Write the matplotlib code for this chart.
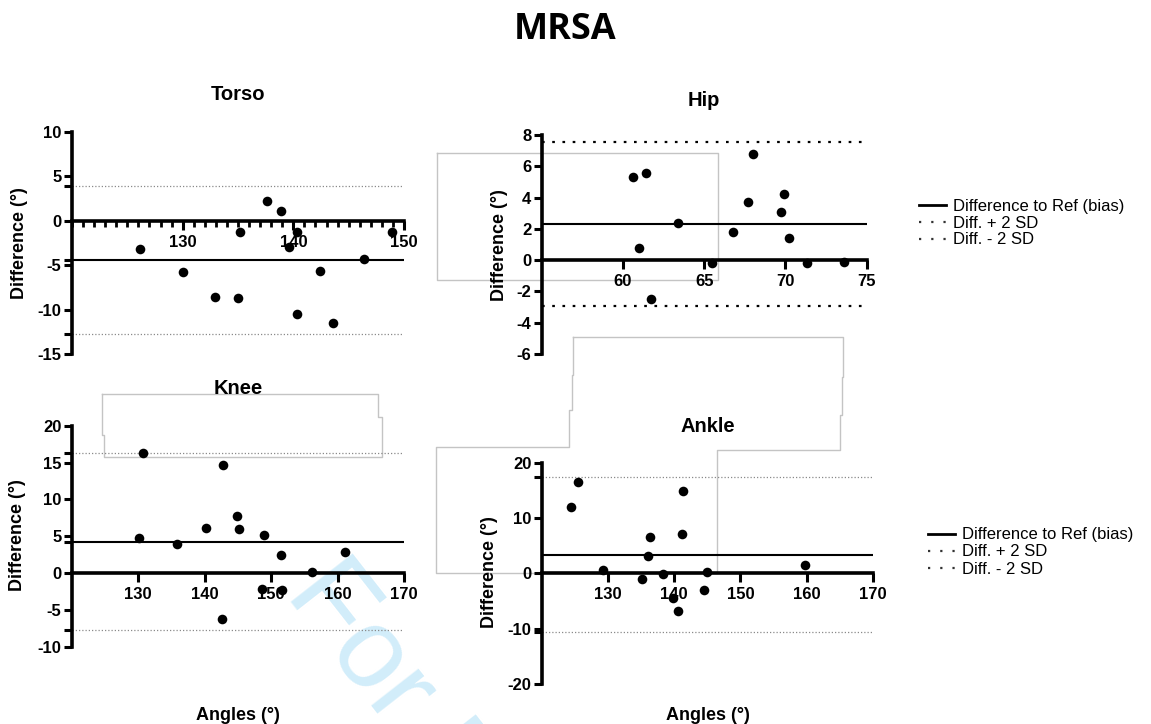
import matplotlib
matplotlib.use("Agg")
import matplotlib.pyplot as plt
from matplotlib.lines import Line2D
from matplotlib.ticker import MultipleLocator

plt.rcParams["font.family"] = ["Liberation Sans", "DejaVu Sans"]
plt.rcParams["axes.unicode_minus"] = False

W, H = 1151, 724

# ── data: mean angle vs difference to reference ───────────
torso_x = [126.1, 130.0, 132.9, 135.0, 135.2, 137.6, 138.9, 139.6, 140.3, 140.3, 142.4, 143.6, 146.4, 148.9]
torso_d = [-3.2, -5.8, -8.6, -8.7, -1.3, 2.2, 1.1, -3.0, -1.3, -10.5, -5.7, -11.5, -4.3, -1.3]
torso_bias, torso_up, torso_lo = -4.42, 3.9, -12.73

hip_x = [60.6, 61.0, 61.4, 61.7, 63.4, 65.5, 66.8, 67.7, 68.0, 69.7, 69.9, 70.2, 71.3, 73.6]
hip_d = [5.3, 0.8, 5.6, -2.5, 2.4, -0.2, 1.8, 3.7, 6.8, 3.1, 4.2, 1.4, -0.2, -0.15]
hip_bias, hip_up, hip_lo = 2.3, 7.53, -2.92

knee_x = [130.1, 130.7, 135.9, 140.2, 142.7, 142.6, 144.8, 145.1, 148.7, 148.9, 151.5, 151.7, 156.2, 161.1]
knee_d = [4.8, 16.3, 4.0, 6.1, 14.7, -6.2, 7.8, 6.0, -2.2, 5.2, 2.4, -2.3, 0.1, 2.9]
knee_bias, knee_up, knee_lo = 4.25, 16.3, -7.8

ankle_x = [124.4, 125.5, 129.3, 135.1, 136.0, 136.4, 138.3, 139.8, 140.6, 141.2, 141.4, 144.5, 145.0, 159.7]
ankle_d = [12.0, 16.6, 0.6, -1.1, 3.1, 6.6, -0.2, -4.4, -6.8, 7.2, 14.8, -3.0, 0.2, 1.45]
ankle_bias, ankle_up, ankle_lo = 3.37, 17.4, -10.66

legend_labels = ["Difference to Ref (bias)", "Diff. + 2 SD", "Diff. - 2 SD"]


def fx(px):
    return px / W


def fy(py):
    return 1 - py / H


def add_panel(fig, left, top, right, bottom):
    ax = fig.add_axes([fx(left), fy(bottom), (right - left) / W, (bottom - top) / H])
    ax.patch.set_visible(False)
    return ax


thin_dots = dict(color="#8a8a8a", lw=0.9, linestyle=(0, (1, 1.6)))
bold_dots = dict(color="black", lw=1.6, linestyle=(0, (1.2, 3.4)))


def bland_altman(ax, x, d, bias, up, lo, xlim, ylim, xticks, yticks, extra_y, loa_style):
    ax.set_xlim(xlim)
    ax.set_ylim(ylim)
    for s in ["top", "right"]:
        ax.spines[s].set_visible(False)
    ax.spines["bottom"].set_position(("data", 0))
    for s in ["left", "bottom"]:
        ax.spines[s].set_linewidth(2.6)
        ax.spines[s].set_capstyle("projecting")
    ax.axhline(bias, color="black", lw=1.5, zorder=2)
    ax.axhline(up, zorder=2, **loa_style)
    ax.axhline(lo, zorder=2, **loa_style)
    ax.scatter(x, d, s=48, color="black", zorder=5, clip_on=False, linewidths=0)
    ax.set_xticks(xticks, [str(t) for t in xticks])
    ax.set_yticks(list(yticks) + extra_y, [str(t) for t in yticks] + [""] * len(extra_y))
    ax.tick_params(axis="x", direction="out", length=6.5, width=2.2, pad=3.5, labelsize=12)
    ax.tick_params(axis="y", direction="out", length=6.0, width=2.2, pad=1.5, labelsize=12)
    for lab in ax.get_xticklabels() + ax.get_yticklabels():
        lab.set_fontweight("bold")


fig = plt.figure(figsize=(W / 100, H / 100), dpi=100)

# watermark behind the panels
fig.text(fx(284), fy(594), "For Peer Review", rotation=-52, rotation_mode="anchor",
         ha="left", va="baseline", fontsize=82, color="#d2edfa", zorder=-5)

ax1 = add_panel(fig, 72, 131.7, 404, 354)
bland_altman(ax1, torso_x, torso_d, torso_bias, torso_up, torso_lo, (120, 150), (-15, 10),
             [130, 140, 150], [10, 5, 0, -5, -10, -15], [torso_up, torso_bias, torso_lo], thin_dots)
ax1.xaxis.set_minor_locator(MultipleLocator(1))
ax1.tick_params(axis="x", which="minor", direction="out", length=4.0, width=2.0)

ax2 = add_panel(fig, 541.7, 135, 866.7, 354)
bland_altman(ax2, hip_x, hip_d, hip_bias, hip_up, hip_lo, (55, 75), (-6, 8),
             [60, 65, 70, 75], [8, 6, 4, 2, 0, -2, -4, -6], [], bold_dots)

ax3 = add_panel(fig, 71.7, 425.7, 404, 646.7)
bland_altman(ax3, knee_x, knee_d, knee_bias, knee_up, knee_lo, (120, 170), (-10, 20),
             [130, 140, 150, 160, 170], [20, 15, 10, 5, 0, -5, -10], [knee_up, knee_bias, knee_lo], thin_dots)

ax4 = add_panel(fig, 541.7, 462.7, 873, 684)
bland_altman(ax4, ankle_x, ankle_d, ankle_bias, ankle_up, ankle_lo, (120, 170), (-20, 20),
             [130, 140, 150, 160, 170], [20, 10, 0, -10, -20], [ankle_up, ankle_lo], thin_dots)

# titles and axis labels
fig.text(fx(565), fy(30), "MRSA", ha="center", va="center", fontsize=26, fontweight="bold",
         family=["Open Sans", "DejaVu Sans"])
for (px, py), t in zip([(238, 95), (704, 101), (238, 388), (708, 426)], ["Torso", "Hip", "Knee", "Ankle"]):
    fig.text(fx(px), fy(py), t, ha="center", va="center", fontsize=14.5, fontweight="bold")
for px, py in [(20, 243), (500, 245), (18, 535), (490, 572)]:
    fig.text(fx(px), fy(py), "Difference (°)", ha="center", va="center", rotation=90,
             fontsize=13, fontweight="bold")
for px in [238, 708]:
    fig.text(fx(px), fy(715), "Angles (°)", ha="center", va="center", fontsize=13, fontweight="bold")

# light grey frame outlines left over on the page
frames = [
    [(101.7, 394.3), (378.3, 394.3), (378.3, 416.7), (381.7, 416.7), (381.7, 456.7),
     (104.3, 456.7), (104.3, 435), (101.7, 435), (101.7, 394.3)],
    [(437.3, 153.3), (718.3, 153.3), (718.3, 280), (437.3, 280), (437.3, 153.3)],
    [(573.3, 337.3), (843.3, 337.3), (843.3, 376.7), (841.7, 376.7), (841.7, 415), (840, 415),
     (840, 450), (716.7, 450), (716.7, 573.3), (435.7, 573.3), (435.7, 447.3), (569.3, 447.3),
     (569.3, 410), (571.7, 410), (571.7, 375), (573.3, 375), (573.3, 337.3)],
]
for pts in frames:
    xs = [fx(p[0]) for p in pts]
    ys = [fy(p[1]) for p in pts]
    fig.add_artist(Line2D(xs, ys, transform=fig.transFigure, color="#c4c4c4", lw=1.0, zorder=-4))

# legends
handles = [Line2D([], [], color="black", lw=2.0),
           Line2D([], [], color="#333333", lw=1.6, linestyle=(0, (1, 4.5))),
           Line2D([], [], color="#333333", lw=1.6, linestyle=(0, (1, 4.5)))]
for lx, ly in [(919, 223), (928, 552)]:
    fig.legend(handles, legend_labels, loc="center left", bbox_to_anchor=(fx(lx), fy(ly)),
               frameon=False, fontsize=12, handlelength=1.6, handletextpad=0.45,
               labelspacing=0.12, borderpad=0, borderaxespad=0)

fig.savefig("out.png", dpi=100)
